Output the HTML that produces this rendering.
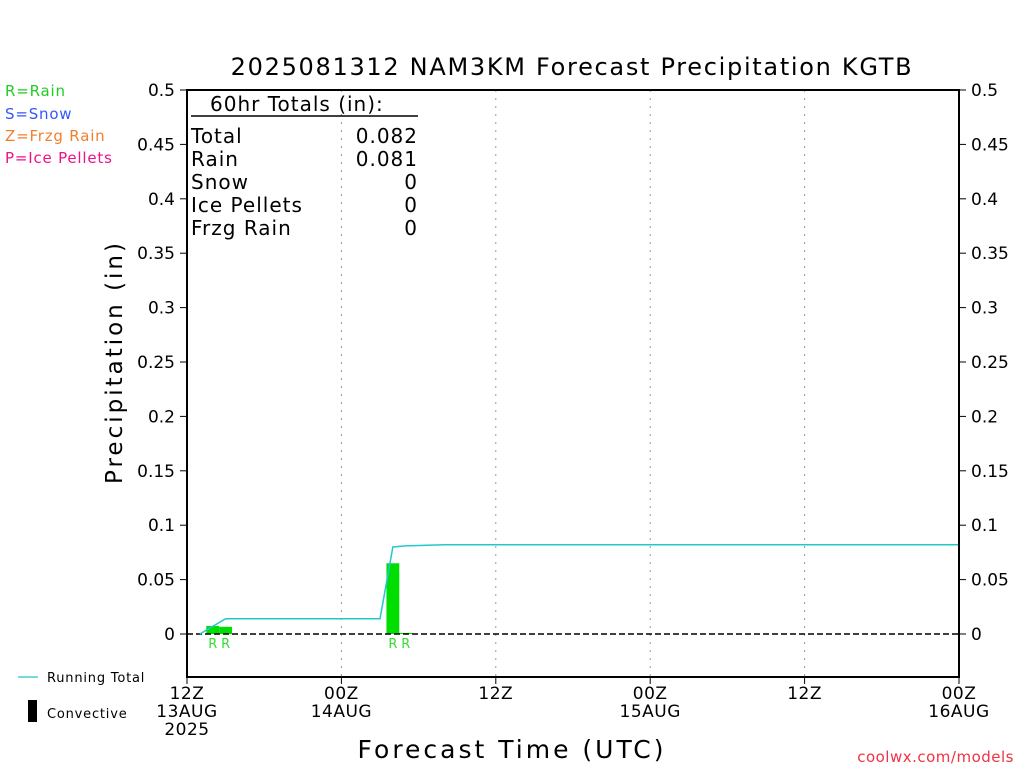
<!DOCTYPE html>
<html><head><meta charset="utf-8"><style>
body{margin:0;background:#fff;width:1024px;height:768px;overflow:hidden;font-family:"DejaVu Sans","Liberation Sans",sans-serif}
svg text{font-family:"DejaVu Sans","Liberation Sans",sans-serif}
</style></head><body>
<svg id="chart" width="1024" height="768">
<text x="572" y="75" font-size="24" letter-spacing="1.7" text-anchor="middle" fill="#000">2025081312 NAM3KM Forecast Precipitation KGTB</text>
<g font-size="15" letter-spacing="0.8">
<text x="5" y="96" fill="#22cc22">R=Rain</text>
<text x="5" y="119" fill="#3355ff">S=Snow</text>
<text x="5" y="141" fill="#f08030">Z=Frzg Rain</text>
<text x="5" y="163" fill="#ee1188">P=Ice Pellets</text>
</g>
<g id="grid"></g>
<g id="marks"></g>
<rect x="187" y="90" width="772" height="587" fill="none" stroke="#000" stroke-width="2"/>
<g id="axes" font-size="17"></g>
<text transform="translate(122,362) rotate(-90)" font-size="23" letter-spacing="3" text-anchor="middle">Precipitation (in)</text>
<text x="512" y="758" font-size="25" letter-spacing="3" text-anchor="middle">Forecast Time (UTC)</text>
<text x="1014" y="762" font-size="15" letter-spacing="0.5" text-anchor="end" fill="#ee3344">coolwx.com/models</text>
<g font-size="20" letter-spacing="1" fill="#000">
<text x="210" y="111">60hr Totals (in):</text>
<line x1="191" y1="116" x2="418" y2="116" stroke="#000" stroke-width="1.5"/>
<text x="191" y="143">Total</text><text x="418" y="143" text-anchor="end">0.082</text>
<text x="191" y="166">Rain</text><text x="418" y="166" text-anchor="end">0.081</text>
<text x="191" y="189">Snow</text><text x="418" y="189" text-anchor="end">0</text>
<text x="191" y="212">Ice Pellets</text><text x="418" y="212" text-anchor="end">0</text>
<text x="191" y="235">Frzg Rain</text><text x="418" y="235" text-anchor="end">0</text>
</g>
<g font-size="13" letter-spacing="0.8">
<line x1="18" y1="677" x2="38" y2="677" stroke="#22c8cc" stroke-width="1.2"/>
<text x="47" y="682">Running Total</text>
<rect x="28" y="700" width="9" height="22" fill="#000"/>
<text x="47" y="718">Convective</text>
</g>
</svg>
<script>
const yTicks=[0,0.05,0.1,0.15,0.2,0.25,0.3,0.35,0.4,0.45,0.5];
const xTickHours=[0,12,24,36,48,60];
const xTickLabels=[["12Z","13AUG","2025"],["00Z","14AUG"],["12Z"],["00Z","15AUG"],["12Z"],["00Z","16AUG"]];
const barHours=[2,3,16,17];
const barValues=[0.0074,0.0066,0.065,0.001];
const barTypes=["R","R","R","R"];
const totalHours=[1,3,15,16,17,20,60];
const totalValues=[0,0.014,0.014,0.080,0.081,0.082,0.082];
const NS="http://www.w3.org/2000/svg";
const X=h=>187+h*(772/60);
const Y=v=>634-v*1088;
function mk(t,a,p){const e=document.createElementNS(NS,t);for(const k in a)e.setAttribute(k,a[k]);p.appendChild(e);return e;}
const grid=document.getElementById('grid'),marks=document.getElementById('marks'),axes=document.getElementById('axes');
xTickHours.forEach((h,i)=>{
 if(i>0&&i<xTickHours.length-1){const l=mk('line',{x1:X(h),x2:X(h),y1:90,y2:677,stroke:'#999','stroke-dasharray':'2,6'},grid);
 
 }
 const tk=mk('line',{x1:X(h),x2:X(h),y1:677,y2:684,stroke:'#000'},axes);
 
 
 xTickLabels[i].forEach((s,j)=>{const t=mk('text',{x:X(h),y:699+j*18,'text-anchor':'middle','letter-spacing':'0.5'},axes);t.textContent=s;
 
 });
});
yTicks.forEach(v=>{
 [[187,180,175,'end'],[959,966,971,'start']].forEach(([a,b,tx,an])=>{
 const l=mk('line',{x1:a,x2:b,y1:Y(v),y2:Y(v),stroke:'#000'},axes);
 
 
 const t=mk('text',{x:tx,y:Y(v)+6,'text-anchor':an},axes);t.textContent=String(v);
 
 });
});
barHours.forEach((h,i)=>{
 const w=772/60;
 const r=mk('rect',{x:X(h)-w/2,y:Y(barValues[i]),width:w,height:Y(0)-Y(barValues[i]),fill:'#00dd00'},marks);
 
 
 const t=mk('text',{x:X(h),y:648,'text-anchor':'middle','font-size':'13',fill:'#33dd33'},marks);t.textContent=barTypes[i];
 
 
});
const z=mk('line',{x1:187,x2:959,y1:Y(0),y2:Y(0),stroke:'#000','stroke-width':1.5,'stroke-dasharray':'6,3'},marks);


const pl=mk('polyline',{points:totalHours.map((h,i)=>X(h)+','+Y(totalValues[i])).join(' '),fill:'none',stroke:'#22c8cc','stroke-width':1.5},marks);


</script>
</body></html>
